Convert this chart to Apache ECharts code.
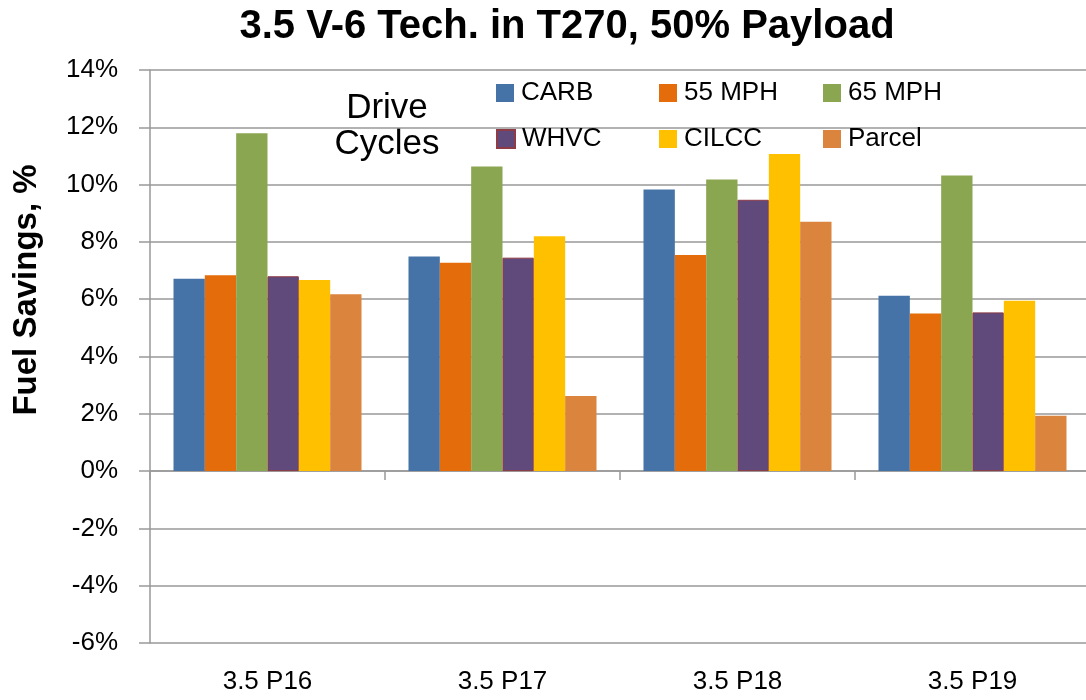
<!DOCTYPE html>
<html>
<head>
<meta charset="utf-8">
<script src="https://cdn.jsdelivr.net/npm/echarts@6/dist/echarts.min.js"></script>
<style>
html,body{margin:0;padding:0;background:#fff;}
#chart{width:1086px;height:700px;}
</style>
</head>
<body>
<div id="chart"></div>
<script>
const categories = ['3.5 P16', '3.5 P17', '3.5 P18', '3.5 P19'];
const seriesNames = ['CARB', '55 MPH', '65 MPH', 'WHVC', 'CILCC', 'Parcel'];
const carb   = [6.71, 7.49, 9.83, 6.12];
const mph55  = [6.84, 7.27, 7.54, 5.50];
const mph65  = [11.79, 10.63, 10.18, 10.32];
const whvc   = [6.80, 7.45, 9.47, 5.54];
const cilcc  = [6.67, 8.20, 11.07, 5.95];
const parcel = [6.17, 2.62, 8.70, 1.93];
const yTicks = { min: -6, max: 14, interval: 2 };

const values = [carb, mph55, mph65, whvc, cilcc, parcel];
const colors = ['#4572A7', '#E46C0A', '#8BA650', '#604A7B', '#FFC000', '#DB843D'];
const borders = ['#4572A7', '#E46C0A', '#8BA650', '#8E3B46', '#FFC000', '#DB843D'];

const chart = echarts.init(document.getElementById('chart'));
const font = 'Liberation Sans, Arial, sans-serif';

const legendPos = [[496, 80], [659, 80], [823, 80], [496, 126], [659, 126], [823, 126]];
const legends = seriesNames.map((n, i) => ({
  data: [n],
  left: legendPos[i][0],
  top: legendPos[i][1],
  padding: 0,
  itemWidth: 18,
  itemHeight: 18,
  icon: 'rect',
  selectedMode: false,
  textStyle: { fontFamily: font, fontSize: 26, color: '#000', padding: [0, 0, 0, 2] }
}));

const option = {
  animation: false,
  title: {
    text: '3.5 V-6 Tech. in T270, 50% Payload',
    left: 562,
    top: 2,
    textAlign: 'center',
    textStyle: { fontFamily: font, fontSize: 40, fontWeight: 'bold', color: '#000' }
  },
  legend: legends,
  graphic: [
    {
      type: 'text', x: 27, y: 290, rotation: Math.PI / 2,
      style: { text: 'Fuel Savings, %', font: 'bold 33px ' + font, fill: '#000', align: 'center', verticalAlign: 'middle' }
    },
    {
      type: 'text', x: 387, y: 126,
      style: { text: 'Drive\nCycles', font: '35px ' + font, lineHeight: 36, fill: '#000', align: 'center', verticalAlign: 'middle' }
    }
  ],
  grid: { left: 150, top: 70, width: 940, height: 573, containLabel: false, outerBoundsMode: 'none' },
  xAxis: [
    {
      type: 'category',
      data: categories,
      position: 'top',
      axisLine: { onZero: true, lineStyle: { color: '#999', width: 1.5 } },
      axisTick: { show: true, inside: true, length: 9, lineStyle: { color: '#999', width: 1.5 } },
      axisLabel: { show: false }
    },
    {
      type: 'category',
      data: categories,
      position: 'bottom',
      axisLine: { show: false, onZero: false },
      axisTick: { show: false },
      axisLabel: { margin: 26, fontFamily: font, fontSize: 26, color: '#000' }
    }
  ],
  yAxis: {
    type: 'value',
    min: yTicks.min, max: yTicks.max, interval: yTicks.interval,
    axisLine: { show: true, lineStyle: { color: '#999', width: 1.5 } },
    axisTick: { show: true, length: 11, lineStyle: { color: '#999', width: 1.5 } },
    splitLine: { show: true, lineStyle: { color: '#999', width: 1.5 } },
    axisLabel: { margin: 32, formatter: '{value}%', fontFamily: font, fontSize: 26, color: '#000' }
  },
  series: seriesNames.map((n, i) => ({
    name: n,
    type: 'bar',
    xAxisIndex: 0,
    data: values[i],
    barGap: '0%',
    barCategoryGap: '20%',
    itemStyle: { color: colors[i], borderColor: borders[i], borderWidth: i === 3 ? 1 : 0 }
  }))
};
chart.setOption(option);
</script>
</body>
</html>
